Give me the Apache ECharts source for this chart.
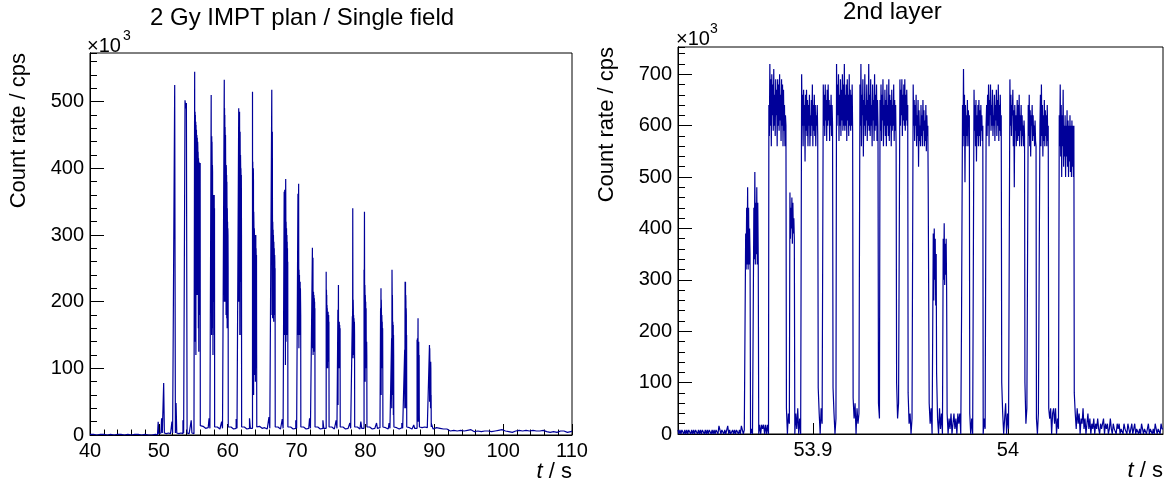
<!DOCTYPE html>
<html><head><meta charset="utf-8">
<script src="https://cdn.jsdelivr.net/npm/echarts@6/dist/echarts.min.js"></script>
<style>html,body{margin:0;padding:0;background:#fff}#c{width:1172px;height:490px}</style>
</head><body><div id="c"></div>
<script>
const FONT = '"Liberation Sans", Arial, Helvetica, sans-serif';
const leftTitle = '2 Gy IMPT plan / Single field';
const rightTitle = '2nd layer';
const yTitle = 'Count rate / cps';
const xTitle = '{i|t} / s';
const unitLabel = '×10';
const unitExp = '3';

// axis ranges (×10^3 cps, seconds)
const leftXRange = [40, 110];
const leftXStep = 10;
const leftYRange = [0, 573];
const rightXRange = [53.8308, 54.0795];
const rightYRange = [0, 753];
const yMajor = 100, yMinor = 20;

// ---------- left panel: whole field (segments of equal-width bins) ----------
const leftSegStart = [40, 49.5, 55.2, 56.04, 57.6, 58.12, 59.5, 60.1, 61.6, 62.04, 63.6, 64.24, 66.4, 66.92, 68.2, 68.76,
  70.2, 70.64, 72.3, 72.7, 74.3, 74.74, 76.0, 76.36, 78.1, 78.46, 79.8, 80.24, 82.2, 82.56, 83.8, 84.16,
  85.7, 86.02, 87.5, 87.86, 89.3, 89.58];
const leftSegBin = [0.5, 0.1, 0.02, 0.125, 0.02, 0.125, 0.02, 0.125, 0.02, 0.125, 0.02, 0.125, 0.02, 0.125, 0.02, 0.125,
  0.02, 0.125, 0.02, 0.125, 0.02, 0.125, 0.02, 0.125, 0.02, 0.125, 0.02, 0.125, 0.02, 0.125, 0.02, 0.125,
  0.02, 0.125, 0.02, 0.125, 0.02, 0.25];
const leftSegRates = [
  [1,0,1,1,0,1,0,1,1,0,1,0,1,1,0,1,0,0,1],
  [1,0,1,0,20,2,3,2,3,25,3,2,78,3,2,2,3,2,2,3,2,2,3,2,20,3,2,3,525,3,48,3,2,3,2,2,3,2,3,2,22,3,2,502,490,498,3,2,3,2,3,2,22,3,2,3,2],
  [545,150,300,485,140,480,482,200,470,120,465,462,300,458,455,210,450,448,210,446,445,300,440,430,330,425,410,160,415,412,125,410,405,230,408,250,405,180,400,300,408,14],
  [14,11,13,10,12,10,12,9,11,9,25,10,11],
  [510,200,445,150,448,300,440,410,160,405,395,250,360,120,355,350,260,360,355,200,350,300,360,150,340,12],
  [13,10,12,10,11,9,11,9,20,10,11],
  [533,200,490,300,480,200,462,440,230,450,410,300,400,180,405,400,350,390,175,380,330,160,340,300,320,200,310,300,250,12],
  [13,10,12,10,11,9,11,9,10,24,10,11],
  [490,200,470,480,300,470,485,410,150,440,455,400,230,420,402,300,400,380,150,390,300,12],
  [13,10,12,10,11,9,11,9,10,25,10,11,10],
  [515,120,410,300,400,160,400,380,60,335,320,300,150,310,305,280,90,300,290,200,300,80,290,250,300,100,280,260,200,270,120,12],
  [14,11,13,10,12,10,11,9,11,9,10,9,11,9,27,10,11,10],
  [518,340,180,320,455,330,175,320,300,275,308,190,300,280,170,290,270,200,280,250,180,270,260,200,250,12],
  [13,10,12,10,11,9,11,9,24,10,11],
  [365,150,360,340,368,200,335,300,320,105,340,384,330,140,320,300,150,310,280,160,300,250,290,150,280,200,260,12],
  [13,10,12,10,11,9,11,9,10,22,10,11],
  [362,150,250,210,240,377,240,130,248,230,200,240,150,230,220,160,230,150,220,200,180,12],
  [13,10,12,10,11,9,11,9,10,9,25,10,11,10],
  [281,130,215,200,266,120,210,180,215,200,125,210,200,150,205,180,200,130,190,12],
  [13,10,12,10,11,9,11,9,10,22,10,11,10],
  [245,100,218,200,210,110,195,185,190,100,180,185,120,180,185,110,175,150,180,100,170,12],
  [13,10,12,10,11,9,11,9,22,10],
  [188,45,185,170,225,110,170,160,165,100,170,160,120,165,150,100,160,12],
  [13,10,12,10,11,9,11,9,10,9,11,18,10,11],
  [178,120,170,340,200,115,203,190,150,180,170,125,175,160,120,170,150,12],
  [13,10,12,10,11,9,11,20,10,11,10],
  [248,90,240,335,230,130,225,210,80,210,200,143,200,100,140,190,130,140,110,140,120,12],
  [13,10,12,10,11,9,11,9,10,9,11,18,10,9,11,10],
  [190,90,180,220,60,203,190,170,120,180,170,100,170,150,110,160,100,12],
  [12,10,11,9,11,9,10,18,10,11],
  [145,40,140,248,220,100,210,170,60,170,160,100,165,30,150,120,30,12],
  [12,10,11,9,11,9,10,9,11,18,10,11,10],
  [128,40,120,230,130,200,230,60,210,200,40,190,180,60,150,12],
  [12,10,11,9,11,9,10,9,15,10,11,10],
  [143,40,140,145,60,140,130,175,20,140,130,30,140,100,40,120,30,12],
  [12,10,11,9,11,12,10,9,11,10,9,11],
  [135,50,130,113,112,90,110,112,40,110,100,40,60,12],
  [17,9,11,8,10,7,9,7,9,8,6,9,7,8,6,8,7,9,6,8,7,6,8,7,5,8,6,7,5,8,6,7,6,8,5,7,6,5,7,6,8,5,6,7,5,6,4,7,6,5,7,5,6,4,7,5,6,5,7,4,6,5,6,4,7,5,5,6,4,6,5,7,4,5,6,4,6,5,4,6,5,6]
];

// ---------- right panel: 2nd layer (0.25 ms bins in spots, 0.5 ms between) ----------
const rightSegStart = [53.8308, 53.8655, 53.8680, 53.8697, 53.8722, 53.8774, 53.8864, 53.8882, 53.8907, 53.8942,
  53.9027, 53.9053, 53.9103, 53.9121, 53.9206, 53.9241, 53.9336, 53.9344, 53.9429, 53.9446,
  53.9488, 53.9514, 53.9591, 53.9617, 53.9634, 53.9668, 53.9688, 53.9762, 53.9804, 53.9826,
  53.9873, 53.9888, 53.9968, 54.0010, 54.0087, 54.0104, 54.0146, 54.0164, 54.0209, 54.0263, 54.0340];
const rightSegBin = [0.0005, 0.00025, 0.0005, 0.00025, 0.0005, 0.00025, 0.0005, 0.00025, 0.0005, 0.00025,
  0.0005, 0.00025, 0.0005, 0.00025, 0.0005, 0.00025, 0.0005, 0.00025, 0.0005, 0.00025,
  0.0005, 0.00025, 0.0005, 0.00025, 0.0005, 0.00025, 0.0005, 0.00025, 0.0005, 0.00025,
  0.0005, 0.00025, 0.0005, 0.00025, 0.0005, 0.00025, 0.0005, 0.00025, 0.0005, 0.00025, 0.0005];
const rightSegRates = [
  [8,0,8,0,8,8,0,8,0,8,0,8,8,0,8,0,8,0,8,8,0,8,0,8,0,8,8,0,8,0,8,0,8,8,0,8,0,8,0,8,8,0,16,8,0,8,8,0,8,0,8,16,0,8,0,0,8,0,8,0,8,8,0,8,0,16,8,0,8],
  [390,320,440,330,480,320,440,330,400,350],
  [0,10,0],
  [440,340,510,330,450,350,480,330,450,340],
  [0,18,0,18,10,18,0,18,0,18,0],
  [640,580,720,600,690,560,700,620,680,590,710,600,660,580,690,620,670,560,690,600,680,590,700,610,660,570,690,600,680,560,670,590,640,560,620,600],
  [50,0,40,20],
  [470,380,440,400,460,370,450,390,420,380],
  [0,40,10,50,0,30,0],
  [700,600,660,560,670,600,640,530,660,590,670,580,650,560,640,600,660,560,620,580,650,600,680,560,640,590,660,580,640,560,620,600,640,580],
  [90,40,0,50,20],
  [680,600,660,580,680,610,650,570,670,600,680,610,650,570,640,600,660,580,640,600],
  [90,40,0,30],
  [720,600,680,620,700,570,660,600,690,580,670,610,700,590,680,600,720,590,660,600,680,570,690,610,660,580,700,600,670,590,660,600,680,590],
  [70,30,60,0,50,20,40],
  [680,600,720,560,660,620,690,540,650,600,700,580,640,610,680,570,650,600,720,590,660,580,690,600,640,560,680,610,650,570,700,590,660,600,680,570,650,600],
  [60,30],
  [650,590,680,570,660,610,690,560,640,600,670,580,650,560,680,600,640,580,690,570,660,600,650,560,670,590,640,600,680,570,650,590,640,560],
  [100,30,60],
  [690,600,670,620,690,580,660,610,680,600,690,590,660,610,670,600,640],
  [80,20,40,0,30],
  [680,600,650,570,640,600,660,560,620,580,650,520,630,570,600,560,640,580,620,560,650,590,630,560,610,570,640,550,620,580,600],
  [480,60,20,50,0],
  [390,260,400,300,380,250,350],
  [120,30,0,50,10,40,0],
  [380,300,410,290,370,310,380,280],
  [40,0,30,10,40,0,20,40,10,30,0,40,20,40,0],
  [230,230,640,560,710,580,660,490,640,560,620,580,650,560,630,600,620],
  [40,0,30,0],
  [670,590,640,560,650,530,620,580,640,560,650,580,630,560,640,590,620,570,600],
  [0,30,10],
  [600,640,580,660,600,680,560,650,620,680,590,640,600,670,580,620,600,660,570,640,610,670,580,650,600,680,570,640,590,660,580,620],
  [100,40,0,30,60,0,40,10],
  [690,600,660,580,640,620,670,560,630,480,640,590,620,560,600,650,570,640,580,660,560,620,590,640,560,620,580,600,560,610,580],
  [100,20,50],
  [640,580,660,560,630,540,620,600,640,570,620,580,600,560,610,570,560],
  [30,0,40],
  [600,660,560,680,580,640,540,620,570,650,560,630,580,620,560,640,570,600],
  [50,30,50,0,40,50,20,50,0,30,10],
  [620,560,680,540,640,500,620,560,670,520,600,540,620,500,600,540,630,520,610,500,600,530,620,510,600,500,610,520,600,500,600],
  [80,40,10,50,20,40,0,30,20,50,10,30,0,20,40,10,30,0,20,10,30,0,20,10,30,10,0,20,10,20,30,0,20,10,20,0,10,30,10,0,20,10,10,0,20,10,20,0,10,10,0,20,10,10,0,20,10,0,10,20,0,10,20,0,10,10,0,10,0,20,10,0,10,10,0,10,20,0,10,10,0,10,0,20,10,0,10,10,0,20,10]
];

function buildSteps(starts, bins, rates, xEnd) {
  const pts = [];
  for (let s = 0; s < starts.length; s++) {
    const next = s + 1 < starts.length ? starts[s + 1] : xEnd;
    const bw = Array.isArray(bins) ? bins[s] : bins;
    const vals = rates[s];
    for (let i = 0; i < vals.length; i++) {
      const t = starts[s] + i * bw;
      if (t >= next - 1e-9) break;
      pts.push([t, vals[i]]);
    }
  }
  pts.push([xEnd, pts[pts.length - 1][1]]);
  return pts;
}
const leftData = buildSteps(leftSegStart, leftSegBin, leftSegRates, leftXRange[1]);
const rightData = buildSteps(rightSegStart, rightSegBin, rightSegRates, rightXRange[1]);

const LINE = '#000099';
const txt = { color: '#000', fontFamily: FONT };

function xAxisCfg(grid, range, opts) {
  return Object.assign({
    type: 'value', gridIndex: grid, min: range[0], max: range[1],
    axisLine: { show: true, onZero: false, lineStyle: { color: '#000', width: 1 } },
    axisTick: { show: true, inside: true, length: 11, lineStyle: { color: '#000' } },
    splitLine: { show: false },
    axisLabel: Object.assign({ fontSize: 20, margin: 6 }, txt),
    name: xTitle, nameLocation: 'end', nameGap: 0, nameMoveOverlap: false,
    nameTextStyle: Object.assign({ fontSize: 22, align: 'right', verticalAlign: 'top', padding: [26, 0, 0, 0],
      rich: { i: { fontStyle: 'italic', fontSize: 22, fontFamily: FONT, color: '#000' } } }, txt)
  }, opts || {});
}
function yMajorCfg(grid, range) {
  return {
    type: 'value', gridIndex: grid, position: 'left', min: range[0], max: range[1], interval: yMajor,
    axisLine: { show: true, onZero: false, lineStyle: { color: '#000', width: 1 } },
    axisTick: { show: true, inside: true, length: 14, lineStyle: { color: '#000' } },
    splitLine: { show: false },
    axisLabel: Object.assign({ fontSize: 20, margin: 6, showMaxLabel: false }, txt),
    name: yTitle, nameLocation: 'end', nameGap: 0, nameRotate: 90, nameMoveOverlap: false,
    nameTextStyle: Object.assign({ fontSize: 22, align: 'right', verticalAlign: 'bottom', padding: [0, 0, 60, 0] }, txt)
  };
}
function yMinorCfg(grid, range) {
  return {
    type: 'value', gridIndex: grid, position: 'left', min: range[0], max: range[1], interval: yMinor,
    axisLine: { show: true, onZero: false, lineStyle: { color: '#000', width: 1 } },
    axisTick: { show: true, inside: true, length: 7, lineStyle: { color: '#000' } },
    splitLine: { show: false }, axisLabel: { show: false }
  };
}

const option = {
  animation: false,
  backgroundColor: '#fff',
  title: [
    { text: leftTitle, left: 150, top: 6, padding: 0, textStyle: { fontSize: 24, fontWeight: 'normal', color: '#000', fontFamily: FONT } },
    { text: rightTitle, left: 843, top: 0, padding: 0, textStyle: { fontSize: 24, fontWeight: 'normal', color: '#000', fontFamily: FONT } }
  ],
  grid: [
    { left: 90, top: 53, width: 482, height: 382, show: true, borderColor: '#000', borderWidth: 1, backgroundColor: '#fff', outerBoundsMode: 'none', containLabel: false },
    { left: 678, top: 47, width: 485, height: 387, show: true, borderColor: '#000', borderWidth: 1, backgroundColor: '#fff', outerBoundsMode: 'none', containLabel: false }
  ],
  xAxis: [
    xAxisCfg(0, leftXRange, { interval: leftXStep, minorTick: { show: true, splitNumber: 5, length: 5.5, lineStyle: { color: '#000' } } }),
    xAxisCfg(1, rightXRange, { splitNumber: 2, axisLabel: Object.assign({ fontSize: 20, margin: 6, showMinLabel: false, showMaxLabel: false }, txt) })
  ],
  yAxis: [
    yMajorCfg(0, leftYRange), yMinorCfg(0, leftYRange),
    yMajorCfg(1, rightYRange), yMinorCfg(1, rightYRange)
  ],
  graphic: [
    { type: 'text', x: 87, y: 46, style: { text: unitLabel, fill: '#000', font: '20px ' + FONT, verticalAlign: 'middle' } },
    { type: 'text', x: 123, y: 36, style: { text: unitExp, fill: '#000', font: '14px ' + FONT, verticalAlign: 'middle' } },
    { type: 'text', x: 676, y: 39, style: { text: unitLabel, fill: '#000', font: '20px ' + FONT, verticalAlign: 'middle' } },
    { type: 'text', x: 710, y: 29, style: { text: unitExp, fill: '#000', font: '14px ' + FONT, verticalAlign: 'middle' } }
  ],
  series: [
    { type: 'line', xAxisIndex: 0, yAxisIndex: 0, data: leftData, step: 'end', showSymbol: false, symbol: 'none',
      lineStyle: { color: LINE, width: 1.2 }, itemStyle: { color: LINE }, silent: true, clip: true },
    { type: 'line', xAxisIndex: 1, yAxisIndex: 2, data: rightData, step: 'end', showSymbol: false, symbol: 'none',
      lineStyle: { color: LINE, width: 1.2 }, itemStyle: { color: LINE }, silent: true, clip: true }
  ]
};
const chart = echarts.init(document.getElementById('c'), null, { renderer: 'canvas' });
chart.setOption(option);
</script></body></html>
